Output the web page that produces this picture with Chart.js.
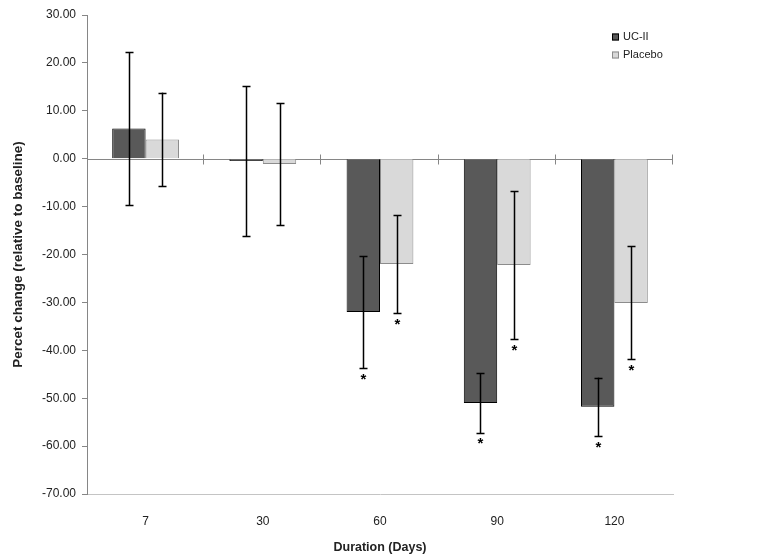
<!DOCTYPE html>
<html>
<head>
<meta charset="utf-8">
<script src="https://cdn.jsdelivr.net/npm/chart.js@4"></script>
<style>
  html, body { margin: 0; padding: 0; background: #fff; }
  #wrap { width: 761px; height: 555px; }
</style>
</head>
<body>
<div id="wrap"><canvas id="chart" width="761" height="555"></canvas></div>
<script>
const days = ["7", "30", "60", "90", "120"];
const ucII = [6.3, -0.5, -32.0, -51.0, -51.8];
const placebo = [4.0, -1.1, -22.0, -22.2, -30.1];
const ucIIErr = [15.9, 15.7, 11.7, 6.2, 6.1];
const placeboErr = [9.8, 12.8, 10.2, 15.5, 11.8];
const ucIIStar = [false, false, true, true, true];
const placeboStar = [false, false, true, true, true];

const axisGray = "#868686";
const textColor = "#222";
const fontFam = "'Liberation Sans', Arial, sans-serif";

// error bars and significance stars, placed from the scales
const errorBars = {
  id: "errorBars",
  afterDatasetsDraw(chart) {
    const ctx = chart.ctx;
    const y = chart.scales.y;
    const errs = [ucIIErr, placeboErr];
    const stars = [ucIIStar, placeboStar];
    ctx.save();
    ctx.strokeStyle = "#000";
    ctx.lineWidth = 1.5;
    chart.data.datasets.forEach((ds, di) => {
      const meta = chart.getDatasetMeta(di);
      meta.data.forEach((bar, i) => {
        const v = ds.data[i];
        const top = y.getPixelForValue(v + errs[di][i]);
        const bot = y.getPixelForValue(v - errs[di][i]);
        const cx = Math.round(bar.x) + 0.5;
        ctx.beginPath();
        ctx.moveTo(cx, top);
        ctx.lineTo(cx, bot);
        ctx.moveTo(cx - 4, Math.round(top) + 0.5);
        ctx.lineTo(cx + 4, Math.round(top) + 0.5);
        ctx.moveTo(cx - 4, Math.round(bot) + 0.5);
        ctx.lineTo(cx + 4, Math.round(bot) + 0.5);
        ctx.stroke();
        if (stars[di][i]) {
          ctx.fillStyle = "#000";
          ctx.font = "bold 15px " + fontFam;
          ctx.textAlign = "center";
          ctx.textBaseline = "top";
          ctx.fillText("*", cx, bot + 4);
        }
      });
    });
    ctx.restore();
  }
};

// horizontal axis line at zero with crossing tick marks
const zeroLine = {
  id: "zeroLine",
  beforeDatasetsDraw(chart) {
    const ctx = chart.ctx;
    const x = chart.scales.x;
    const y0 = Math.round(chart.scales.y.getPixelForValue(0)) + 0.5;
    const step = (x.right - x.left) / days.length;
    ctx.save();
    ctx.strokeStyle = axisGray;
    ctx.lineWidth = 1;
    ctx.beginPath();
    ctx.moveTo(x.left, y0);
    ctx.lineTo(x.right, y0);
    for (let i = 1; i <= days.length; i++) {
      const tx = Math.round(x.left + step * i) - 0.5;
      ctx.moveTo(tx, y0 - 5);
      ctx.lineTo(tx, y0 + 5);
    }
    ctx.stroke();
    ctx.restore();
  }
};

// legend drawn inside the plot, top right
const boxLegend = {
  id: "boxLegend",
  afterDraw(chart) {
    const ctx = chart.ctx;
    const area = chart.chartArea;
    const lx = area.right - 61;
    let ly = area.top + 22;
    ctx.save();
    ctx.font = "11px " + fontFam;
    ctx.textBaseline = "middle";
    ctx.textAlign = "left";
    chart.data.datasets.forEach((ds) => {
      ctx.fillStyle = ds.backgroundColor;
      ctx.fillRect(lx, ly - 3.5, 7, 7);
      ctx.strokeStyle = ds.borderColor;
      ctx.lineWidth = 1;
      ctx.strokeRect(lx + 0.5, ly - 3.5 + 0.5, 6, 6);
      ctx.fillStyle = textColor;
      ctx.fillText(ds.label, lx + 11, ly);
      ly += 18;
    });
    ctx.restore();
  }
};

new Chart(document.getElementById("chart"), {
  type: "bar",
  data: {
    labels: days,
    datasets: [
      {
        label: "UC-II",
        data: ucII,
        backgroundColor: "#595959",
        borderColor: "#000000",
        borderWidth: 1
      },
      {
        label: "Placebo",
        data: placebo,
        backgroundColor: "#d9d9d9",
        borderColor: "#8c8c8c",
        borderWidth: 1
      }
    ]
  },
  options: {
    responsive: false,
    animation: false,
    layout: { padding: { top: 15, right: 88, left: 0, bottom: 0 } },
    datasets: { bar: { categoryPercentage: 0.57, barPercentage: 1.0 } },
    plugins: {
      legend: { display: false },
      tooltip: { enabled: false }
    },
    scales: {
      x: {
        grid: { display: false },
        border: { display: true, color: "#c4c4c4", width: 1 },
        ticks: {
          color: textColor,
          padding: 12,
          font: { family: fontFam, size: 12 }
        },
        title: {
          display: true,
          text: "Duration (Days)",
          color: textColor,
          padding: { top: 8, bottom: 0 },
          font: { family: fontFam, size: 12.5, weight: "bold" }
        },
        afterFit(scale) { scale.height = 61; }
      },
      y: {
        min: -70,
        max: 30,
        ticks: {
          stepSize: 10,
          color: textColor,
          padding: 6,
          callback: (v) => Number(v).toFixed(2),
          font: { family: fontFam, size: 12 }
        },
        grid: { drawOnChartArea: false, drawTicks: true, tickLength: 5, color: axisGray },
        border: { display: true, color: axisGray, width: 1 },
        title: {
          display: true,
          text: "Percet change (relative to baseline)",
          color: textColor,
          padding: { top: 10, bottom: 0 },
          font: { family: fontFam, size: 13.5, weight: "bold" }
        },
        afterFit(scale) { scale.width = 87; }
      }
    }
  },
  plugins: [zeroLine, errorBars, boxLegend]
});
</script>
</body>
</html>
